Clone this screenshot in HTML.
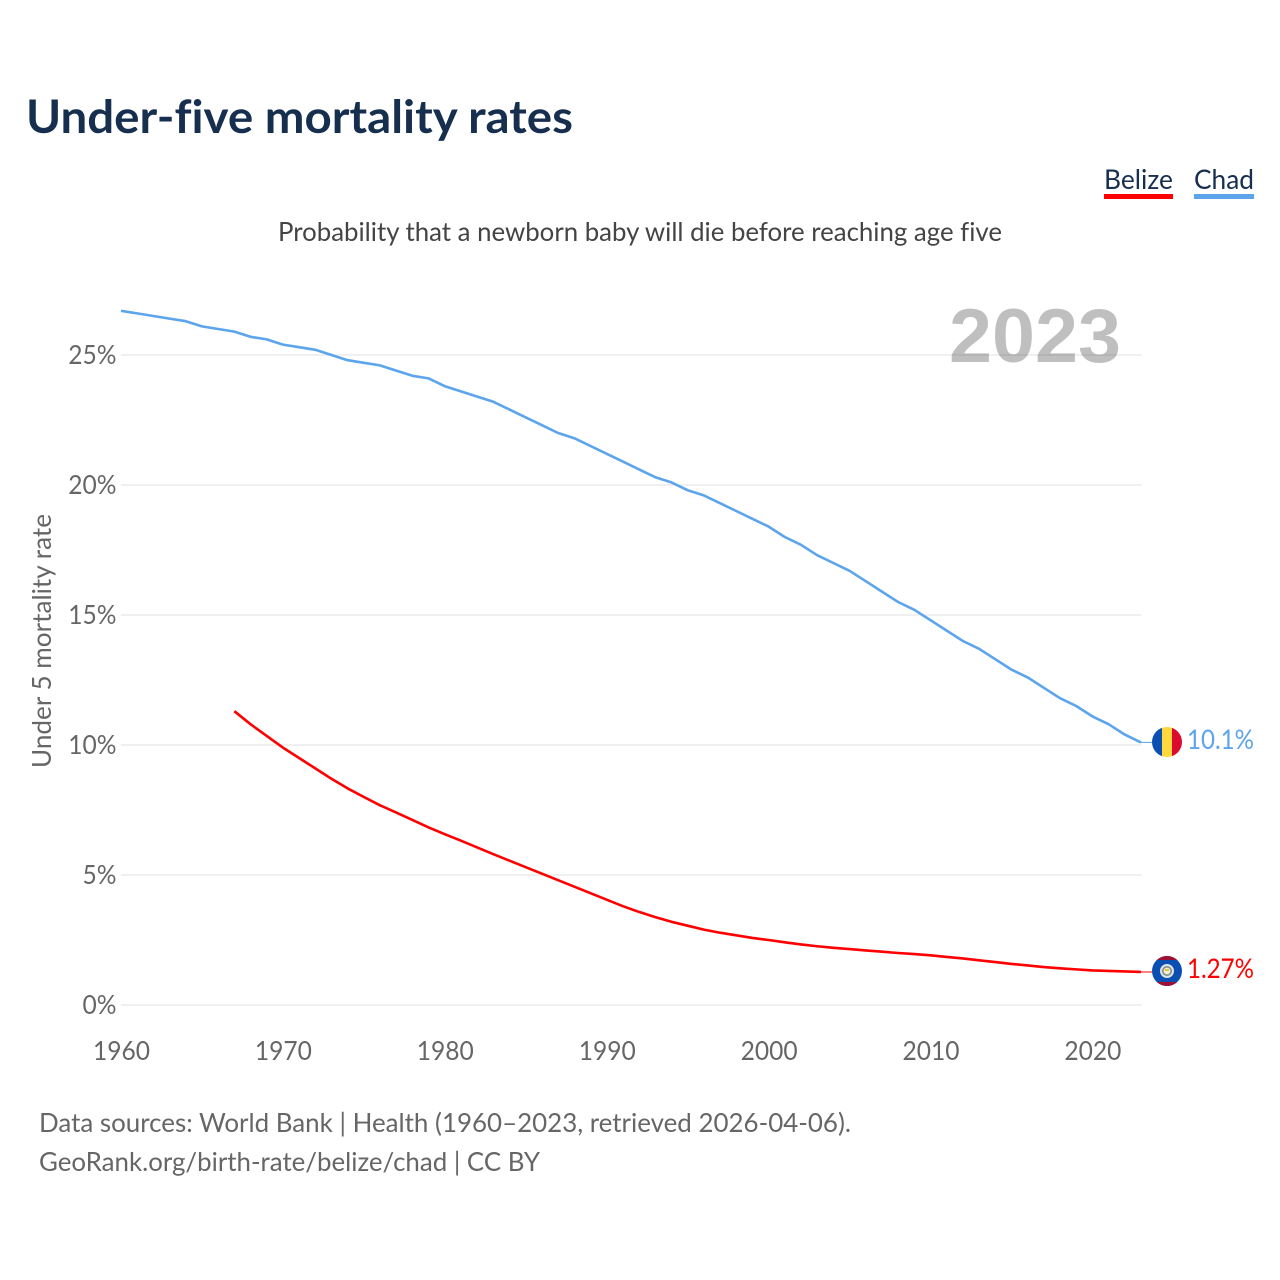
<!DOCTYPE html>
<html lang="en">
<head>
<meta charset="utf-8">
<title>Under-five mortality rates</title>
<style>
html,body{margin:0;padding:0;background:#fff;width:1280px;height:1280px;overflow:hidden}
svg{display:block}
text{font-family:Lato,Carlito,"Liberation Sans",sans-serif;font-variant-ligatures:none}
</style>
</head>
<body>
<svg id="chart" xmlns="http://www.w3.org/2000/svg" width="1280" height="1280" viewBox="0 0 1280 1280">
  <defs>
    <clipPath id="flag-clip-chad"><circle cx="1167" cy="742" r="15"/></clipPath>
    <clipPath id="flag-clip-belize"><circle cx="1167" cy="971" r="15"/></clipPath>
  </defs>
  <text x="26" y="133" font-size="46" font-weight="700" fill="#172f4f" textLength="547" lengthAdjust="spacingAndGlyphs">Under-five mortality rates</text>
  <text x="1104" y="189" font-size="27" fill="#172f4f" textLength="69" lengthAdjust="spacingAndGlyphs">Belize</text>
  <rect x="1104" y="194" width="69" height="5" fill="#ff0000"/>
  <text x="1194" y="189" font-size="27" fill="#172f4f" textLength="60" lengthAdjust="spacingAndGlyphs">Chad</text>
  <rect x="1194" y="194" width="60" height="5" fill="#5ca4ec"/>
  <text x="278" y="241" font-size="26" fill="#444" textLength="724" lengthAdjust="spacingAndGlyphs">Probability that a newborn baby will die before reaching age five</text>
  <g id="grid"></g>
  <text x="949" y="362" font-size="76" font-weight="700" fill="#000" fill-opacity="0.25" style="font-family:'Liberation Sans',sans-serif" textLength="172" lengthAdjust="spacingAndGlyphs">2023</text>
  <g id="y-labels"></g>
  <g id="x-labels"></g>
  <text transform="translate(51,768) rotate(-90)" x="0" y="0" font-size="26" fill="#666" textLength="254" lengthAdjust="spacingAndGlyphs">Under 5 mortality rate</text>
  <path id="line-chad" fill="none" stroke="#5ca4ec" stroke-width="2.6" stroke-linejoin="round"/>
  <path id="line-belize" fill="none" stroke="#ff0000" stroke-width="2.6" stroke-linejoin="round"/>
  <line id="leader-chad" stroke="#5ca4ec" stroke-width="1"/>
  <line id="leader-belize" stroke="#ff0000" stroke-width="1"/>
  <g clip-path="url(#flag-clip-chad)">
    <rect x="1152" y="727" width="10" height="30" fill="#0b4fb3"/>
    <rect x="1162" y="727" width="10" height="30" fill="#ffd83d"/>
    <rect x="1172" y="727" width="10" height="30" fill="#dc0a2d"/>
  </g>
  <g clip-path="url(#flag-clip-belize)">
    <rect x="1152" y="956" width="30" height="30" fill="#0b4fb3"/>
    <rect x="1152" y="956" width="30" height="4" fill="#a01035"/>
    <rect x="1152" y="982" width="30" height="4" fill="#a01035"/>
    <circle cx="1167" cy="971" r="7" fill="#dfe3e3"/>
    <circle cx="1167" cy="971" r="5" fill="#7f8f8f"/>
    <circle cx="1167" cy="971" r="3.4" fill="#f4f0d8"/>
    <rect x="1165" y="969" width="4" height="2" fill="#f2c230"/>
  </g>
  <text x="1187" y="749" font-size="27.5" fill="#5ca4ec" textLength="67" lengthAdjust="spacingAndGlyphs">10.1%</text>
  <text x="1187" y="978" font-size="27.5" fill="#ff0000" textLength="67" lengthAdjust="spacingAndGlyphs">1.27%</text>
  <text x="39" y="1132" font-size="26" fill="#666" textLength="812" lengthAdjust="spacingAndGlyphs">Data sources: World Bank | Health (1960–2023, retrieved 2026-04-06).</text>
  <text x="39" y="1171" font-size="26" fill="#666" textLength="501" lengthAdjust="spacingAndGlyphs">GeoRank.org/birth-rate/belize/chad | CC BY</text>
</svg>
<script>
const chadStartYear = 1960;
const belizeStartYear = 1967;
const chadValues = [26.7,26.6,26.5,26.4,26.3,26.1,26.0,25.9,25.7,25.6,25.4,25.3,25.2,25.0,24.8,24.7,24.6,24.4,24.2,24.1,23.8,23.6,23.4,23.2,22.9,22.6,22.3,22.0,21.8,21.5,21.2,20.9,20.6,20.3,20.1,19.8,19.6,19.3,19.0,18.7,18.4,18.0,17.7,17.3,17.0,16.7,16.3,15.9,15.5,15.2,14.8,14.4,14.0,13.7,13.3,12.9,12.6,12.2,11.8,11.5,11.1,10.8,10.4,10.1];
const belizeValues = [11.3,10.8,10.35,9.9,9.5,9.1,8.7,8.33,8.0,7.68,7.4,7.12,6.83,6.57,6.32,6.06,5.8,5.55,5.3,5.05,4.8,4.55,4.3,4.05,3.8,3.58,3.38,3.2,3.05,2.9,2.78,2.68,2.58,2.5,2.41,2.33,2.26,2.2,2.15,2.1,2.05,2.0,1.96,1.91,1.85,1.79,1.72,1.65,1.58,1.52,1.46,1.41,1.37,1.33,1.31,1.29,1.27];
const yTicks = [0,5,10,15,20,25];
const xTicks = [1960,1970,1980,1990,2000,2010,2020];

const NS = 'http://www.w3.org/2000/svg';
const labelSqueeze = 0.945;
const xScale = function (year) { return 121 + (year - 1960) * 16.19; };
const yScale = function (value) { return 1005 - value * 26; };

const linePath = function (values, startYear) {
  return values.map(function (v, i) {
    return (i ? 'L' : 'M') + xScale(startYear + i).toFixed(2) + ' ' + yScale(v).toFixed(2);
  }).join(' ');
};

document.getElementById('line-chad').setAttribute('d', linePath(chadValues, chadStartYear));
document.getElementById('line-belize').setAttribute('d', linePath(belizeValues, belizeStartYear));

const setLeader = function (id, values, startYear) {
  const el = document.getElementById(id);
  const last = values[values.length - 1];
  el.setAttribute('x1', xScale(startYear + values.length - 1));
  el.setAttribute('x2', 1152);
  el.setAttribute('y1', yScale(last));
  el.setAttribute('y2', yScale(last));
};
setLeader('leader-chad', chadValues, chadStartYear);
setLeader('leader-belize', belizeValues, belizeStartYear);

const squeeze = function (el) {
  el.setAttribute('lengthAdjust', 'spacingAndGlyphs');
  el.setAttribute('textLength', (el.getComputedTextLength() * labelSqueeze).toFixed(2));
};

const gridGroup = document.getElementById('grid');
const yGroup = document.getElementById('y-labels');
yTicks.forEach(function (t) {
  const line = document.createElementNS(NS, 'line');
  
  
  line.setAttribute('x1', 121);
  line.setAttribute('x2', 1141.5);
  line.setAttribute('y1', yScale(t));
  line.setAttribute('y2', yScale(t));
  line.setAttribute('stroke', '#ececec');
  line.setAttribute('stroke-width', 1.4);
  gridGroup.appendChild(line);

  const label = document.createElementNS(NS, 'text');
  
  
  label.setAttribute('x', 116.5);
  label.setAttribute('y', yScale(t) + 9);
  label.setAttribute('text-anchor', 'end');
  label.setAttribute('font-size', 26);
  label.setAttribute('fill', '#666');
  label.textContent = t + '%';
  yGroup.appendChild(label);
  squeeze(label);
});

const xGroup = document.getElementById('x-labels');
xTicks.forEach(function (t) {
  const label = document.createElementNS(NS, 'text');
  
  
  label.setAttribute('x', xScale(t) + 0.5);
  label.setAttribute('y', 1060);
  label.setAttribute('text-anchor', 'middle');
  label.setAttribute('font-size', 26);
  label.setAttribute('fill', '#666');
  label.textContent = t;
  xGroup.appendChild(label);
  squeeze(label);
});
</script>
</body>
</html>
